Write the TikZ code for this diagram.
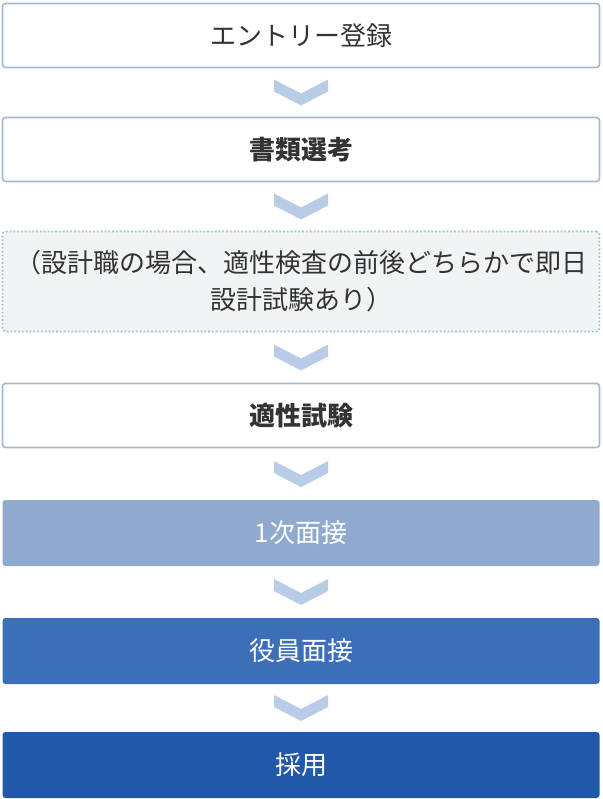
\documentclass[tikz,border=0pt]{standalone}
\usepackage{fontspec}
\setmainfont{Noto Sans CJK JP}
\usepackage{tikz}
\usetikzlibrary{calc}

\definecolor{lineblue}{RGB}{168,184,207}
\definecolor{chevblue}{RGB}{184,204,229}
\definecolor{dotblue}{RGB}{150,196,210}
\definecolor{paleback}{RGB}{242,243,245}
\definecolor{stepA}{RGB}{143,170,206}
\definecolor{stepB}{RGB}{61,110,185}
\definecolor{stepC}{RGB}{34,88,168}
\definecolor{inktext}{RGB}{51,51,51}

\begin{document}
\begin{tikzpicture}[x=1pt,y=1pt,
        flowbox/.style={rectangle,rounded corners=3pt,minimum width=597pt,minimum height=64pt,
            inner sep=0pt,align=center,font=\fontsize{26}{37}\selectfont},
        plainbox/.style={flowbox,draw=lineblue,line width=1.6pt,fill=white,text=inktext},
        keybox/.style={plainbox,font=\fontsize{26}{37}\selectfont\bfseries},
        notebox/.style={flowbox,draw=dotblue,line width=1.6pt,dash pattern=on 1.8pt off 2pt,
            fill=paleback,text=inktext,minimum height=100pt},
        colorbox/.style={flowbox,fill=#1,text=white,minimum height=66pt},
        chev/.style={fill=chevblue}]
        \useasboundingbox (0,0) rectangle (602,-799);
		\node[plainbox] (entry) at (301,-35.5) {エントリー登録};
		\node[keybox] (docs) at (301,-149.5) {書類選考};
		\node[notebox] (note) at (301,-281.5) {（設計職の場合、適性検査の前後どちらかで即日\\設計試験あり）};
		\node[keybox] (apt) at (301,-415.5) {適性試験};
		\node[colorbox=stepA] (first) at (301,-533) {1次面接};
		\node[colorbox=stepB] (board) at (301,-651) {役員面接};
		\node[colorbox=stepC] (hire) at (301,-765) {採用};
		% chevrons between the steps
		\foreach \a/\b in {entry/docs,docs/note,note/apt,apt/first,first/board,board/hire}
			\fill[chev] ($(\a.south)!0.5!(\b.north)$) ++(-27,13) -- ++(27,-14) -- ++(27,14)
				-- ++(0,-12) -- ++(-27,-14) -- ++(-27,14) -- cycle;
\end{tikzpicture}
\end{document}
